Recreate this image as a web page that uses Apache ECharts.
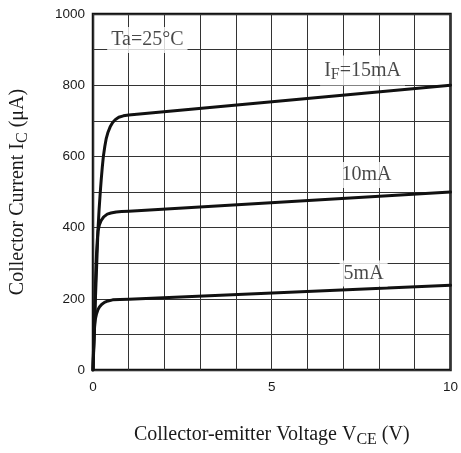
<!DOCTYPE html>
<html><head><meta charset="utf-8">
<script src="https://cdn.jsdelivr.net/npm/echarts@6/dist/echarts.min.js"></script>
<style>html,body{margin:0;padding:0;background:#fff}#c{width:461px;height:453px}</style>
</head><body><div id="c"></div>
<script>
// Data
var vce15 = [0, 0.035, 0.07, 0.105, 0.14, 0.17, 0.2, 0.23, 0.26, 0.29, 0.33, 0.37, 0.42, 0.48, 0.55, 0.63, 0.72, 0.85, 1.0, 10];
var ic15  = [0, 100, 207, 300, 395, 450, 495, 535, 570, 600, 628, 650, 668, 683, 695, 704, 710, 714, 716, 800];
var vce10 = [0, 0.03, 0.06, 0.08, 0.1, 0.12, 0.14, 0.18, 0.23, 0.3, 0.4, 0.5, 0.65, 0.8, 1.0, 10];
var ic10  = [0, 100, 207, 280, 330, 365, 390, 408, 420, 430, 438, 441, 444, 445, 446, 500];
var vce5  = [0, 0.015, 0.03, 0.05, 0.07, 0.1, 0.14, 0.18, 0.24, 0.32, 0.42, 0.55, 0.75, 1.0, 10];
var ic5   = [0, 60, 100, 128, 145, 158, 170, 177, 184, 190, 194, 197, 198, 199, 238];
var xTicks = [0, 5, 10];
var yTicks = [0, 200, 400, 600, 800, 1000];
var noteText = ['Ta=25°C', '{n|I}{s|F}{n|=15mA}', '10mA', '5mA'];
var noteX = [1.52, 7.54, 7.65, 7.57];
var noteY = [927, 841, 548, 271];

function pairs(xs, ys){ return xs.map(function(x,i){ return [x, ys[i]]; }); }
var serif = 'Liberation Serif';
var ink = '#1a1a1a';
var lineStyle = {color:'#111', width:3, join:'round', cap:'round'};
function curve(name, xs, ys){
  return {name:name, type:'line', data:pairs(xs, ys), showSymbol:false, symbol:'none',
    smooth:false, lineStyle:lineStyle, z:3, silent:true};
}
var richTitle = {
  n:{fontFamily:serif, fontSize:20, color:ink, lineHeight:26, verticalAlign:'middle'},
  s:{fontFamily:serif, fontSize:16, color:ink, lineHeight:17, verticalAlign:'bottom'}};
var chart = echarts.init(document.getElementById('c'), null, {renderer:'canvas'});
chart.setOption({
  animation:false,
  backgroundColor:'#fff',
  grid:{left:90, right:9, top:14, bottom:78, show:true, borderColor:'#111', borderWidth:2.5, backgroundColor:'transparent'},
  xAxis:{type:'value', min:0, max:10, interval:1,
    name:'{n|Collector-emitter Voltage V}{s|CE}{n| (V)}', nameLocation:'middle', nameGap:52,
    nameTextStyle:{fontFamily:serif, color:ink, rich:richTitle},
    axisLine:{show:false}, axisTick:{show:false},
    axisLabel:{margin:10, fontFamily:'Liberation Sans', fontSize:13.5, color:ink,
      formatter:function(v){ return xTicks.indexOf(v) >= 0 ? String(v) : ''; }},
    splitLine:{show:true, lineStyle:{color:'#333', width:1}}
  },
  yAxis:{type:'value', min:0, max:1000, interval:100,
    name:'{n|Collector Current I}{s|C}{n| (μA)}', nameLocation:'middle', nameGap:62, nameRotate:90,
    nameTextStyle:{fontFamily:serif, color:ink, rich:richTitle},
    axisLine:{show:false}, axisTick:{show:false},
    axisLabel:{margin:8, fontFamily:'Liberation Sans', fontSize:13.5, color:ink,
      formatter:function(v){ return yTicks.indexOf(v) >= 0 ? String(v) : ''; }},
    splitLine:{show:true, lineStyle:{color:'#333', width:1}}
  },
  series:[
    curve('15mA', vce15, ic15),
    curve('10mA', vce10, ic10),
    curve('5mA', vce5, ic5),
    {type:'scatter', symbolSize:1, itemStyle:{color:'rgba(0,0,0,0)'}, z:5, silent:true,
      data:noteX.map(function(x,i){ return {value:[x, noteY[i]], label:{formatter:noteText[i]}}; }),
      label:{show:true, position:'inside', backgroundColor:'#fff', padding:[3,4,3,4],
        fontFamily:serif, fontSize:20, color:ink,
        rich:{
          n:{fontFamily:serif, fontSize:20, color:ink, lineHeight:24, verticalAlign:'middle'},
          s:{fontFamily:serif, fontSize:16, color:ink, lineHeight:15, verticalAlign:'bottom'}}}
    }
  ]
});
</script></body></html>
